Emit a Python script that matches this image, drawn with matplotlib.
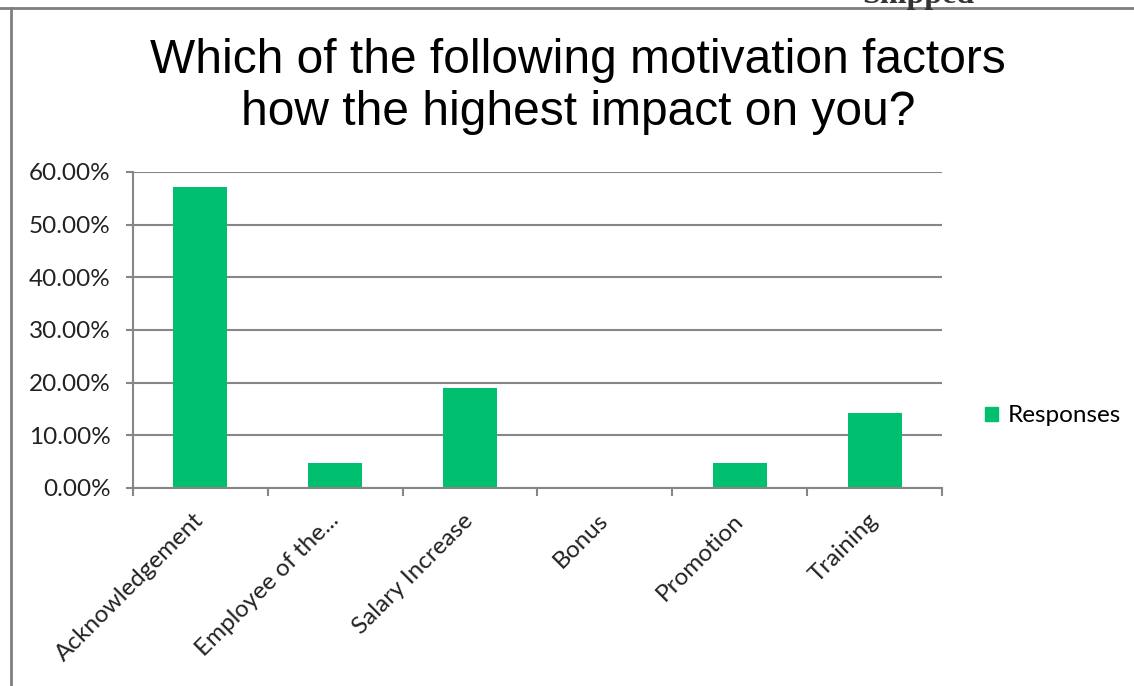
import matplotlib
matplotlib.use("Agg")
import matplotlib.pyplot as plt
from matplotlib.lines import Line2D
from matplotlib.ticker import FuncFormatter, FixedLocator
from matplotlib.patches import Patch

categories = ["Acknowledgement", "Employee of the...", "Salary Increase", "Bonus", "Promotion", "Training"]
responses = [57.14, 4.76, 19.05, 0.0, 4.76, 14.29]
yticks = [0, 10, 20, 30, 40, 50, 60]
title = "Which of the following motivation factors\nhow the highest impact on you?"
series_name = "Responses"

W, H = 1134, 686
fig = plt.figure(figsize=(W / 100, H / 100), dpi=100)
fig.patch.set_facecolor("white")

ax = fig.add_axes([133 / W, 1 - 488 / H, (942 - 133) / W, (488 - 172) / H])
green = "#00BF6F"
grid_col = "#868686"
x = list(range(len(categories)))
ax.bar(x, responses, width=0.4, color=green, zorder=3, label=series_name)
ax.set_xlim(-0.5, len(categories) - 0.5)
ax.set_ylim(0, 60)
ax.yaxis.set_major_locator(FixedLocator(yticks))
ax.yaxis.set_major_formatter(FuncFormatter(lambda v, p: f"{v:.2f}%"))
ax.grid(axis="y", color=grid_col, linewidth=1.5, zorder=0)
for s in ["top", "right"]:
    ax.spines[s].set_visible(False)
for s in ["left", "bottom"]:
    ax.spines[s].set_color(grid_col)
    ax.spines[s].set_linewidth(1.5)
    ax.spines[s].set_zorder(4)

tick_font = "Lato"
fs = 17.5
ax.tick_params(axis="y", length=5, width=1.5, color=grid_col, labelsize=fs,
               labelcolor="#222222", pad=11)
for lab in ax.get_yticklabels():
    lab.set_fontfamily(tick_font)

# category boundary ticks
ax.set_xticks([i - 0.5 for i in range(len(categories) + 1)], minor=False)
ax.set_xticklabels([""] * (len(categories) + 1))
ax.tick_params(axis="x", which="major", length=6, width=1.5, color=grid_col)
ax.set_xticks(x, minor=True)
ax.set_xticklabels(categories, minor=True, rotation=45, ha="right", va="center",
                   rotation_mode="anchor", fontsize=fs, fontfamily=tick_font,
                   color="#222222")
ax.tick_params(axis="x", which="minor", length=0, pad=21)

fig.text(578 / W, 1 - 38 / H, title, ha="center", va="top", fontsize=34.5,
         fontfamily="Liberation Sans", color="black", linespacing=1.2)

leg = ax.legend(handles=[Patch(color=green, label=series_name)], loc="center left",
                bbox_to_anchor=(985 / W, 1 - 416 / H), bbox_transform=fig.transFigure,
                frameon=False, prop={"family": tick_font, "size": fs},
                handlelength=0.55, handleheight=0.55, handletextpad=0.4,
                borderpad=0, borderaxespad=0)

# outer frame of the embedded chart
fig.add_artist(Line2D([0, 1], [1 - 8 / H, 1 - 8 / H], transform=fig.transFigure,
                      color="#7f7f7f", linewidth=2))
fig.add_artist(Line2D([11 / W, 11 / W], [0, 1 - 8 / H], transform=fig.transFigure,
                      color="#7f7f7f", linewidth=2))
# clipped text above the frame (cut off in the reference too)
fig.text(918 / W, 1 - 3 / H, "Shipped", ha="center", va="baseline", fontsize=23,
         fontweight="bold", fontfamily="Liberation Serif", color="#333333")

fig.savefig("out.png", dpi=100, facecolor="white")
